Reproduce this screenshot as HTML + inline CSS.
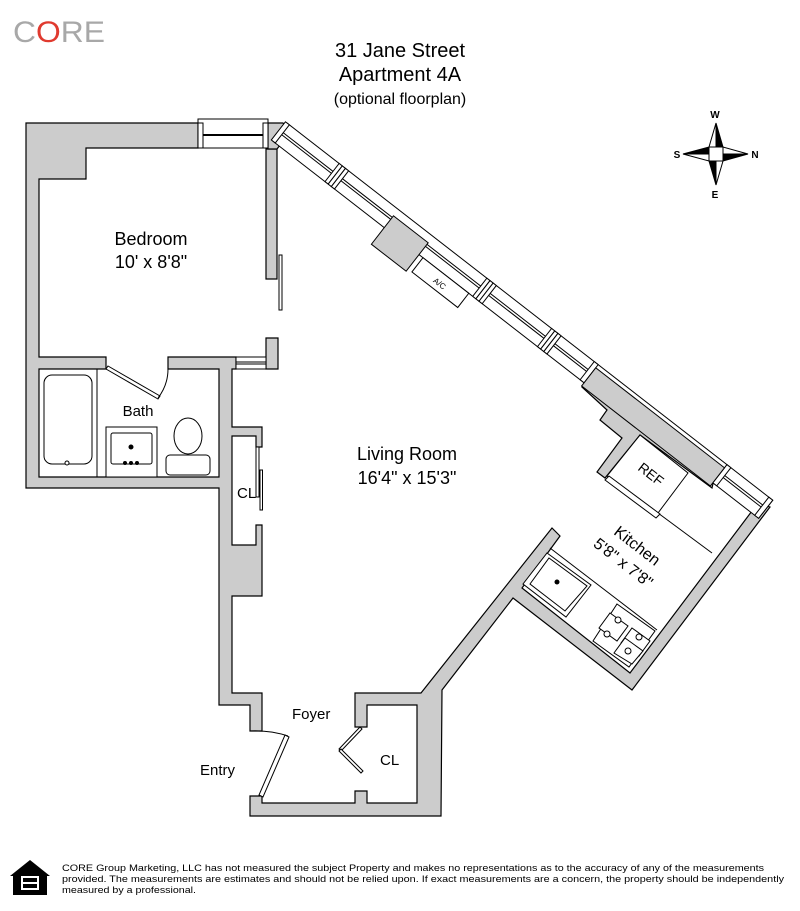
<!DOCTYPE html>
<html><head><meta charset="utf-8"><style>
html,body{margin:0;padding:0;background:#fff;}
svg{display:block;}
text{font-family:"Liberation Sans",sans-serif;}
</style></head><body>
<svg width="800" height="911" viewBox="0 0 800 911" xmlns="http://www.w3.org/2000/svg">
<text x="13" y="42" font-size="30" fill="#a8a8a8" textLength="92" lengthAdjust="spacingAndGlyphs">C<tspan fill="#e03a2f">O</tspan>RE</text>
<text x="400" y="57" font-size="20" text-anchor="middle" fill="#000">31 Jane Street</text>
<text x="400" y="81" font-size="20" text-anchor="middle" fill="#000">Apartment 4A</text>
<text x="400" y="104" font-size="16" text-anchor="middle" fill="#000">(optional floorplan)</text>

<g stroke="#000" stroke-width="1">
<polygon points="716,123 716,147 709,147" fill="#fff"/>
<polygon points="716,123 723,147 716,147" fill="#000"/>
<polygon points="716,185 716,161 723,161" fill="#fff"/>
<polygon points="716,185 709,161 716,161" fill="#000"/>
<polygon points="683,154 709,154 709,147" fill="#000"/>
<polygon points="683,154 709,161 709,154" fill="#fff"/>
<polygon points="748,154 723,154 723,147" fill="#fff"/>
<polygon points="748,154 723,161 723,154" fill="#000"/>
<rect x="709" y="147" width="14" height="14" fill="#fff"/>
</g>
<g font-family="Liberation Serif,serif" font-weight="bold" font-size="10" text-anchor="middle">
<text x="715" y="118">W</text><text x="715" y="198">E</text><text x="677" y="158">S</text><text x="755" y="158">N</text>
</g>

<g stroke="#000" stroke-width="1.2" fill="#ccc" stroke-linejoin="miter">
<polygon points="26,123 198,123 198,148 86,148 86,179 39,179 39,357 106,357 106,369 39,369 39,477 219,477 219,369 168,369 168,357 236,357 236,369 232,369 232,427 262,427 262,447 256,447 256,436 232,436 232,545 256,545 256,525 262,525 262,596 232,596 232,693 262,693 262,731 250,731 250,705 219,705 219,488 26,488"/>
<polygon points="266,149 277,149 277,279 266,279"/>
<polygon points="266,338 278,338 278,369 266,369"/>
<polygon points="268,123 283,123 290,132 277,149 268,149"/>
<polygon points="250,796 262,796 262,803 355,803 355,791 367,791 367,803 417,803 417,705 367,705 367,727 355,727 355,693 421,693 552,528 560,536 522,588 630,673 758,503 770,507 632,690 513,598 442,690 441,816 250,816"/>
<polygon points="582,387 607,410 600,420 622,438 597,472 605,478 640,435 712,488 716,470 596,375"/>
</g>

<g stroke="#000" stroke-width="1" fill="#fff">
<rect x="198" y="119" width="70" height="29"/>
<rect x="198" y="123" width="5" height="25"/>
<rect x="263" y="123" width="5" height="25"/>
<line x1="203" y1="135" x2="263" y2="135" stroke-width="2"/>
<rect x="236" y="357" width="30" height="12"/>
<line x1="236" y1="362" x2="266" y2="362"/>
<line x1="236" y1="364" x2="266" y2="364"/>
</g>

<g transform="translate(287,123) rotate(37.83)" stroke="#000" stroke-width="1" fill="#fff">
<rect x="0" y="0" width="615" height="23"/>
<line x1="0" y1="10" x2="615" y2="10"/>
<line x1="0" y1="12.5" x2="615" y2="12.5"/>
<rect x="-2" y="0" width="5" height="23"/>
<rect x="66" y="0" width="4" height="23"/><rect x="70" y="0" width="4" height="23"/><rect x="74" y="0" width="4" height="23"/>
<rect x="253" y="0" width="4" height="23"/><rect x="257" y="0" width="4" height="23"/><rect x="261" y="0" width="4" height="23"/>
<rect x="335" y="0" width="4" height="23"/><rect x="339" y="0" width="4" height="23"/><rect x="343" y="0" width="4" height="23"/>
<rect x="389" y="0" width="5" height="23"/>
<rect x="557" y="0" width="5" height="23"/>
<rect x="610" y="0" width="5" height="23"/>
<rect x="141" y="8" width="44" height="36" fill="#ccc"/>
<rect x="394" y="4" width="163" height="23" fill="#ccc"/>
<rect x="190" y="23" width="58" height="18"/>
<text x="219" y="36" font-size="8" text-anchor="middle" fill="#000" stroke="none">A/C</text>
</g>

<g stroke="#000" stroke-width="1" fill="#fff">
<polygon points="607,476 640,435 688,473 658,513"/>
<line x1="658" y1="513" x2="712" y2="553"/>
<polygon points="605,480 609,476 660,514 656,518"/>
<line x1="550" y1="548" x2="657" y2="630"/>
<polygon points="547,553 591,585 566,617 523,584"/>
<polygon points="549,558 587,586 565,611 530,584"/>
<polygon points="617,604 655,631 629,667 593,641"/>
<polygon points="610,613 628,626 617,641 599,628"/>
<polygon points="632,628 650,641 639,656 621,643"/>
<polygon points="625,638 643,651 632,664 614,653"/>
</g>
<circle cx="557" cy="582" r="2.5" fill="#000"/>
<g fill="#fff" stroke="#000" stroke-width="1">
<circle cx="618" cy="620" r="3"/><circle cx="607" cy="634" r="3"/><circle cx="639" cy="637" r="3"/><circle cx="628" cy="651" r="3"/>
</g>

<g stroke="#000" stroke-width="1" fill="#fff">
<line x1="97" y1="369" x2="97" y2="477"/>
<rect x="44" y="375" width="48" height="89" rx="8"/>
<circle cx="67" cy="463" r="2"/>
<rect x="106" y="427" width="51" height="50"/>
<rect x="111" y="433" width="41" height="31" rx="2"/>
<circle cx="131" cy="447" r="2" fill="#000"/>
<circle cx="125" cy="463" r="1.5" fill="#000"/><circle cx="131" cy="463" r="1.5" fill="#000"/><circle cx="137" cy="463" r="1.5" fill="#000"/>
<ellipse cx="188" cy="436" rx="14" ry="18"/>
<rect x="166" y="455" width="44" height="20" rx="4"/>
<polygon points="106,369 108,366 160,396 158,399"/>
<path d="M158,398 Q168,385 168,369" fill="none"/>
<rect x="279" y="255" width="3" height="55"/>
<rect x="256" y="447" width="3" height="50"/>
<rect x="260" y="470" width="2.5" height="40"/>
<path d="M250,731 Q270,730 288,736" fill="none"/>
<polygon points="285,735 289,737 263,797 259,795"/>
<polygon points="360,727 362,729 341,751 339,749"/>
<polygon points="339,751 341,749 363,771 361,773"/>
</g>

<g fill="#000">
<text x="151" y="245" font-size="18" text-anchor="middle">Bedroom</text>
<text x="151" y="268" font-size="18" text-anchor="middle">10' x 8'8"</text>
<text x="138" y="416" font-size="15" text-anchor="middle">Bath</text>
<text x="407" y="460" font-size="18" text-anchor="middle">Living Room</text>
<text x="407" y="484" font-size="18" text-anchor="middle">16'4" x 15'3"</text>
<text x="237" y="498" font-size="15">CL</text>
<text x="292" y="719" font-size="15">Foyer</text>
<text x="200" y="775" font-size="15">Entry</text>
<text x="380" y="765" font-size="15">CL</text>
<text transform="translate(648,478) rotate(37.8)" font-size="14" text-anchor="middle">REF</text>
<text transform="translate(634,550) rotate(37.8)" font-size="16" text-anchor="middle">Kitchen</text>
<text transform="translate(620,567) rotate(37.8)" font-size="16" text-anchor="middle">5'8" x 7'8"</text>
</g>

<g>
<polygon points="30,860 50,876 47,876 47,895 13,895 13,876 10,876" fill="#000"/>
<rect x="21" y="876" width="18" height="14" fill="#fff"/>
<rect x="23" y="878" width="14" height="4" fill="#000"/>
<rect x="23" y="884" width="14" height="4" fill="#000"/>
</g>
<g font-size="9.2" fill="#000">
<text x="62" y="871" textLength="702" lengthAdjust="spacingAndGlyphs">CORE Group Marketing, LLC has not measured the subject Property and makes no representations as to the accuracy of any of the measurements</text>
<text x="62" y="882" textLength="722" lengthAdjust="spacingAndGlyphs">provided. The measurements are estimates and should not be relied upon. If exact measurements are a concern, the property should be independently</text>
<text x="62" y="893" textLength="134" lengthAdjust="spacingAndGlyphs">measured by a professional.</text>
</g>
</svg>
</body></html>
